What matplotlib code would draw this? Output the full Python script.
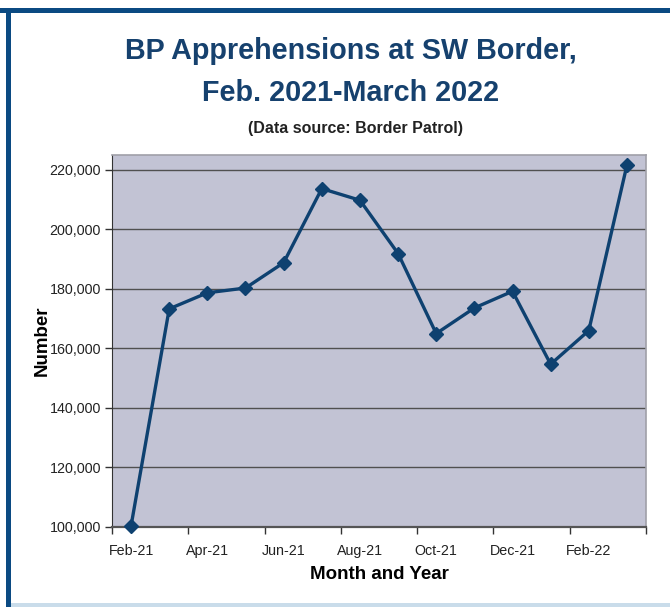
import numpy as np
import matplotlib.pyplot as plt
from matplotlib.patches import Rectangle

# monthly BP apprehensions, SW border
months = ['Feb-21', 'Mar-21', 'Apr-21', 'May-21', 'Jun-21', 'Jul-21', 'Aug-21',
          'Sep-21', 'Oct-21', 'Nov-21', 'Dec-21', 'Jan-22', 'Feb-22', 'Mar-22']
apprehensions = [100400, 173300, 178700, 180300, 188800, 213700, 209800,
                 191900, 165000, 173600, 179200, 154700, 166000, 221600]
yticks = [100000, 120000, 140000, 160000, 180000, 200000, 220000]

plt.rcParams['font.family'] = ['Liberation Sans', 'DejaVu Sans']
navy = '#0e4170'

fig = plt.figure(figsize=(6.70, 6.07), dpi=100)
fig.patch.set_facecolor('white')

# frame pieces of the original graphic
fig.add_artist(Rectangle((0, 1 - 13/607), 1, 5/607, transform=fig.transFigure,
                         color='#0b4a82', lw=0))
fig.add_artist(Rectangle((6/670, 0), 5/670, 1 - 8/607, transform=fig.transFigure,
                         color='#0b4a82', lw=0))
fig.add_artist(Rectangle((11/670, 0), 1, 4/607, transform=fig.transFigure,
                         color='#c9dcea', lw=0))

ax = fig.add_axes([112/670, 1 - 527/607, 534/670, 372/607])
ax.set_facecolor('#c2c3d4')

x = np.arange(len(months))
ax.plot(x, apprehensions, color=navy, lw=2.4, marker='D', ms=7,
        markerfacecolor=navy, markeredgecolor=navy, zorder=3, clip_on=False)

ax.set_xlim(-0.5, len(months) - 0.5)
ax.set_ylim(100000, 225000)
ax.set_yticks(yticks)
ax.set_yticklabels([f'{v:,}' for v in yticks], fontsize=10.3, color='#222222')
ax.yaxis.grid(True, color='#505050', lw=1)
ax.set_axisbelow(True)

# labels centred on every other month, tick marks on the month boundaries
ax.set_xticks(x[::2])
ax.set_xticklabels(months[::2], fontsize=10.3, color='#222222')
ax.set_xticks(np.arange(-0.5, len(months), 2), minor=True)
ax.tick_params(axis='x', which='major', length=0, pad=12)
ax.tick_params(axis='x', which='minor', length=5, width=1, color='#333333', direction='out')
ax.tick_params(axis='y', length=5, width=1, color='#333333', pad=3)

for s in ['top', 'right']:
    ax.spines[s].set_color('#a0a0a8')
    ax.spines[s].set_linewidth(1.2)
ax.spines['left'].set_color('#333333')
ax.spines['bottom'].set_color('#555555')
ax.spines['bottom'].set_linewidth(1.6)

ax.set_ylabel('Number', fontsize=13.5, fontweight='bold')
ax.yaxis.set_label_coords(-0.115, 0.5)
ax.set_xlabel('Month and Year', fontsize=13.5, fontweight='bold', labelpad=6)

fig.text(351/670, 1 - 51/607, 'BP Apprehensions at SW Border,', ha='center', va='center',
         fontsize=20.7, fontweight='bold', color='#16416e')
fig.text(351/670, 1 - 93/607, 'Feb. 2021-March 2022', ha='center', va='center',
         fontsize=20.7, fontweight='bold', color='#16416e')
fig.text(355/670, 1 - 129/607, '(Data source: Border Patrol)', ha='center', va='center',
         fontsize=11.5, fontweight='bold', color='#222222')

plt.savefig('out.png', dpi=100)
